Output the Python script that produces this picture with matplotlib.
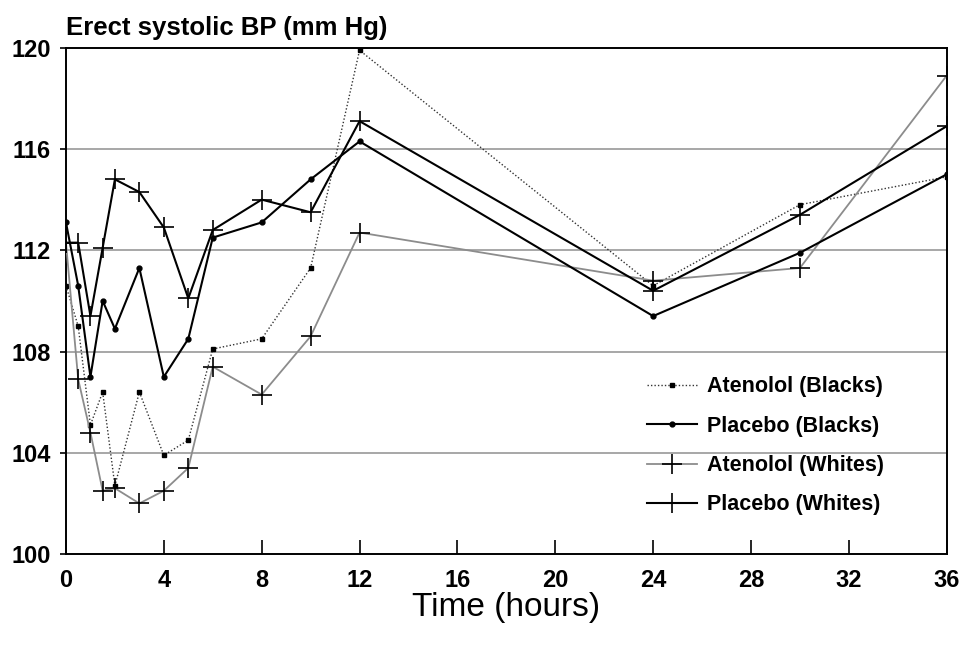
import matplotlib
matplotlib.use("Agg")
import matplotlib.pyplot as plt

# hours after dose
hours = [0, 0.5, 1, 1.5, 2, 3, 4, 5, 6, 8, 10, 12, 24, 30, 36]

# erect systolic BP (mm Hg)
atenolol_blacks = [110.6, 109.0, 105.1, 106.4, 102.7, 106.4, 103.9, 104.5,
                   108.1, 108.5, 111.3, 119.9, 110.6, 113.8, 114.9]
placebo_blacks = [113.1, 110.6, 107.0, 110.0, 108.9, 111.3, 107.0, 108.5,
                  112.5, 113.1, 114.8, 116.3, 109.4, 111.9, 115.0]
atenolol_whites = [112.3, 106.9, 104.8, 102.5, 102.6, 102.0, 102.5, 103.4,
                   107.4, 106.3, 108.6, 112.7, 110.8, 111.3, 118.9]
placebo_whites = [112.3, 112.3, 109.4, 112.1, 114.8, 114.3, 112.9, 110.1,
                  112.8, 114.0, 113.5, 117.1, 110.4, 113.4, 116.9]

x_ticks = [0, 4, 8, 12, 16, 20, 24, 28, 32, 36]
y_ticks = [100, 104, 108, 112, 116, 120]
grid_levels = [104, 108, 112, 116]

plt.rcParams["font.family"] = ["Liberation Sans", "DejaVu Sans"]

fig = plt.figure(figsize=(9.7, 6.45), dpi=100)
ax = fig.add_axes([0.068, 0.141, 0.908, 0.785])

for level in grid_levels:
    ax.axhline(level, color="#a0a0a0", lw=1.3, zorder=1)

ax.plot(hours, atenolol_blacks, color="#333333", ls=(0, (1, 1.5)), lw=1.0,
        marker="s", ms=3.5, mfc="black", mec="black", zorder=3,
        label="Atenolol (Blacks)")
ax.plot(hours, placebo_blacks, color="black", lw=1.5,
        marker="o", ms=3.5, mfc="black", zorder=4,
        label="Placebo (Blacks)")
ax.plot(hours, atenolol_whites, color="#8c8c8c", lw=1.3,
        marker="+", ms=14, mew=1.2, mec="black", zorder=3,
        label="Atenolol (Whites)")
ax.plot(hours, placebo_whites, color="black", lw=1.5,
        marker="+", ms=14, mew=1.2, mec="black", zorder=4,
        label="Placebo (Whites)")

ax.set_xlim(0, 36)
ax.set_ylim(100, 120)
ax.set_xticks(x_ticks)
ax.set_yticks(y_ticks)
ax.tick_params(axis="x", direction="in", length=10, width=1.2, pad=11,
               labelsize=17)
ax.tick_params(axis="y", direction="out", length=4, width=1.2, pad=7,
               labelsize=17)
for lab in ax.get_xticklabels() + ax.get_yticklabels():
    lab.set_fontweight("bold")
for sp in ax.spines.values():
    sp.set_linewidth(1.4)

ax.set_xlabel("Time (hours)", fontsize=24, labelpad=0)
fig.text(0.068, 0.956, "Erect systolic BP (mm Hg)", fontsize=18.5,
         fontweight="bold", ha="left", va="center")

leg = ax.legend(loc="upper left", bbox_to_anchor=(0.648, 0.372), frameon=False,
                borderpad=0, fontsize=15.5, handlelength=2.3,
                labelspacing=0.85, handletextpad=0.45)
for t in leg.get_texts():
    t.set_fontweight("bold")

fig.savefig("out.png", dpi=100)
